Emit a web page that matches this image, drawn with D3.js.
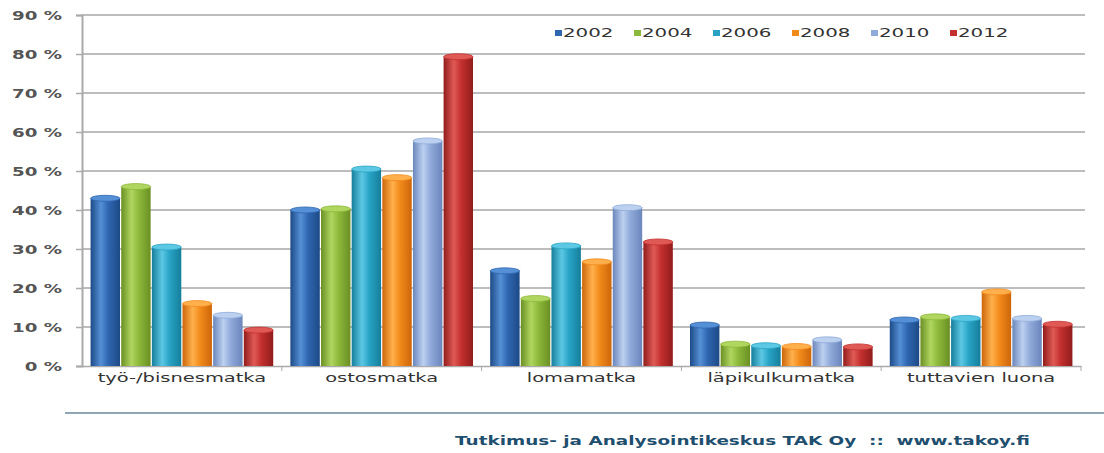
<!DOCTYPE html>
<html><head><meta charset="utf-8">
<script src="https://cdn.jsdelivr.net/npm/d3@7"></script>
<style>body{margin:0;background:#fff;}svg{display:block;}</style>
</head><body>
<svg id="c" width="1104" height="453"></svg>
<script>
const categories = ["työ-/bisnesmatka","ostosmatka","lomamatka","läpikulkumatka","tuttavien luona"];
const years = ["2002","2004","2006","2008","2010","2012"];
const v2002 = [43, 40, 24.4, 10.5, 11.8];
const v2004 = [46, 40.3, 17.3, 5.6, 12.6];
const v2006 = [30.5, 50.5, 30.8, 5.2, 12.2];
const v2008 = [16, 48.3, 26.7, 5, 19];
const v2010 = [13, 57.7, 40.6, 6.7, 12.2];
const v2012 = [9.2, 79.3, 31.8, 4.9, 10.7];
const yTicks = [0,10,20,30,40,50,60,70,80,90];
const footer = "Tutkimus- ja Analysointikeskus TAK Oy  ::  www.takoy.fi";

const series = [v2002,v2004,v2006,v2008,v2010,v2012];
const colors = [
  {d:"#1d4a86", b:"#2f66b0", l:"#5590d6"},
  {d:"#6a8f24", b:"#8cb93a", l:"#b0d660"},
  {d:"#167e9b", b:"#28a3c5", l:"#5cc8e4"},
  {d:"#cc660a", b:"#f28a1a", l:"#ffb04c"},
  {d:"#6a86bb", b:"#8fa9d9", l:"#bcd0f0"},
  {d:"#901c1c", b:"#c3302e", l:"#e05a55"}
];

const svg = d3.select("#c");
const x0 = d3.scaleBand().domain(categories).range([82, 1081]).paddingInner(0).paddingOuter(0);
const x1 = d3.scaleBand().domain(years).range([0, x0.bandwidth()]).paddingOuter(0.28).paddingInner(0.04);
const y = d3.scaleLinear().domain([0, 90]).range([366, 15]);

function stretch(sel, k){
  sel.each(function(){
    const w = this.getComputedTextLength();
    d3.select(this).attr("textLength", w*k).attr("lengthAdjust","spacingAndGlyphs");
  });
}

const defs = svg.append("defs");
colors.forEach((c,i)=>{
  const g = defs.append("linearGradient").attr("id","g"+i).attr("x1","0").attr("x2","1").attr("y1","0").attr("y2","0");
  g.append("stop").attr("offset","0%").attr("stop-color",c.d);
  g.append("stop").attr("offset","35%").attr("stop-color",c.l);
  g.append("stop").attr("offset","60%").attr("stop-color",c.b);
  g.append("stop").attr("offset","100%").attr("stop-color",c.d);
});

// gridlines
svg.append("g").selectAll("line").data(yTicks.filter(t=>t>0)).join("line")
  .attr("x1",82).attr("x2",1085).attr("y1",d=>y(d)).attr("y2",d=>y(d))
  .attr("stroke","#bdbdbd").attr("stroke-width",2);

// y axis
const yAxis = svg.append("g").attr("transform","translate(82,0)")
  .call(d3.axisLeft(y).tickValues(yTicks).tickSize(6).tickPadding(14).tickFormat(d=>d+" %"));
yAxis.select(".domain").attr("stroke","#aaa").attr("stroke-width",2);
yAxis.selectAll(".tick line").attr("stroke","#aaa").attr("stroke-width",1.5);
yAxis.selectAll("text").attr("font-family","DejaVu Sans, sans-serif").attr("font-size",12)
  .attr("font-weight","bold").attr("fill","#555").attr("dy","0.35em");
stretch(yAxis.selectAll("text"), 1.52);

// x axis
const xAxis = svg.append("g").attr("transform","translate(0,366)")
  .call(d3.axisBottom(x0).tickSize(0).tickPadding(12));
xAxis.select(".domain").attr("stroke","#aaa").attr("stroke-width",1.5);
xAxis.selectAll("text").attr("font-family","DejaVu Sans, sans-serif").attr("font-size",12).attr("fill","#333").attr("dy","0.35em");
stretch(xAxis.selectAll("text"), 1.62);
svg.append("g").selectAll("line").data(categories.slice(1).concat(["end"])).join("line")
  .attr("x1",d=>d==="end"?1081:x0(d)).attr("x2",d=>d==="end"?1081:x0(d))
  .attr("y1",366).attr("y2",371).attr("stroke","#aaa");

// bars
const groups = svg.append("g").selectAll("g").data(categories).join("g")
  .attr("transform",d=>`translate(${x0(d)},0)`);
groups.each(function(cat, ci){
  const g = d3.select(this);
  const data = years.map((yr,si)=>({yr, si, v: series[si][ci]}));
  g.selectAll("rect").data(data).join("rect")
    .attr("x",d=>x1(d.yr)).attr("width",x1.bandwidth())
    .attr("y",d=>y(d.v)).attr("height",d=>y(0)-y(d.v))
    .attr("fill",d=>`url(#g${d.si})`);
  g.selectAll("ellipse").data(data).join("ellipse")
    .attr("cx",d=>x1(d.yr)+x1.bandwidth()/2).attr("cy",d=>y(d.v))
    .attr("rx",x1.bandwidth()/2).attr("ry",3)
    .attr("fill",d=>colors[d.si].l).attr("stroke",d=>colors[d.si].b).attr("stroke-width",0.8);
});

// legend
const lx = d3.scaleBand().domain(years).range([555, 1029]);
const leg = svg.append("g").selectAll("g").data(years).join("g")
  .attr("transform",d=>`translate(${lx(d)},33)`);
leg.append("rect").attr("x",0).attr("y",-3).attr("width",7).attr("height",6)
  .attr("fill",(d,i)=>colors[i].b);
const lt = leg.append("text").attr("x",8).attr("y",0).attr("dy","0.36em")
  .attr("font-family","DejaVu Sans, sans-serif").attr("font-size",12).attr("fill","#333").text(d=>d);
stretch(lt, 1.65);

// separator & footer
svg.append("line").attr("x1",65).attr("x2",1104).attr("y1",413).attr("y2",413)
  .attr("stroke","#8fa6b6").attr("stroke-width",2);
const ft = svg.append("text").attr("x",455).attr("y",441).attr("dy","0.35em")
  .attr("font-family","DejaVu Sans, sans-serif").attr("font-size",11.5).attr("font-weight","bold")
  .attr("fill","#1f4f6f").attr("xml:space","preserve").style("white-space","pre").text(footer);
ft.each(function(){ d3.select(this).attr("textLength",575).attr("lengthAdjust","spacingAndGlyphs"); });
</script>
</body></html>
